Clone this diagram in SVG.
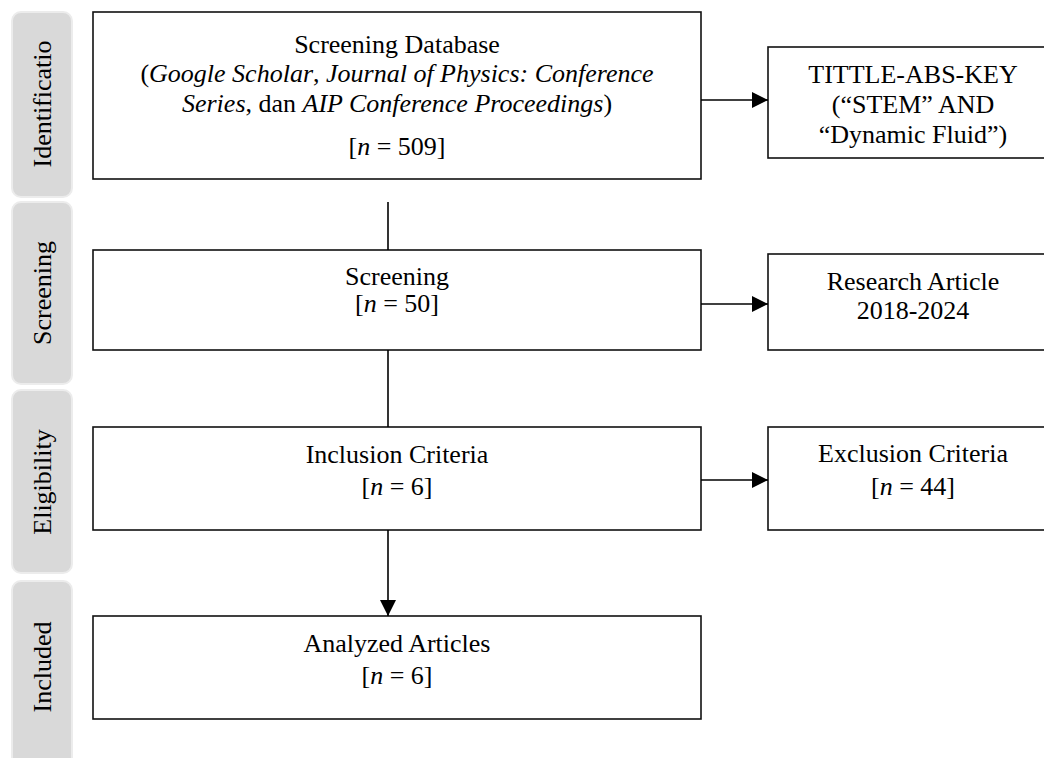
<svg xmlns="http://www.w3.org/2000/svg" width="1044" height="758" viewBox="0 0 1044 758">
  <defs>
    <marker id="arrow" markerWidth="17" markerHeight="17" refX="16" refY="8" orient="auto" markerUnits="userSpaceOnUse">
      <path d="M0,0 L16,8 L0,16 Z" fill="#000"/>
    </marker>
  </defs>
  <style>
    .tab { fill: #d9d9d9; stroke: #ececec; stroke-width: 2; }
    .box { fill: #fff; stroke: #111; stroke-width: 1.6; }
    .lbl { font-family: "Liberation Serif", "Times New Roman", serif; font-size: 26px; fill: #000; text-anchor: middle; }
    .conn { stroke: #000; stroke-width: 1.6; fill: none; }
  </style>
  <rect width="1044" height="758" fill="#fff"/>

  <!-- phase tabs -->
  <g id="tab-identification">
    <rect class="tab" x="12" y="12" width="60" height="185" rx="9"/>
    <text class="lbl" transform="translate(51,104) rotate(-90)">Identificatio</text>
  </g>
  <g id="tab-screening">
    <rect class="tab" x="12" y="202" width="60" height="182" rx="9"/>
    <text class="lbl" transform="translate(51,293) rotate(-90)">Screening</text>
  </g>
  <g id="tab-eligibility">
    <rect class="tab" x="12" y="390" width="60" height="183" rx="9"/>
    <text class="lbl" transform="translate(51,482) rotate(-90)">Eligibility</text>
  </g>
  <g id="tab-included">
    <rect class="tab" x="12" y="581" width="60" height="190" rx="9"/>
    <text class="lbl" transform="translate(51,667) rotate(-90)">Included</text>
  </g>

  <!-- main column -->
  <g id="node-database">
    <rect class="box" x="93" y="12" width="608" height="167"/>
    <text class="lbl" x="397" y="53">Screening Database</text>
    <text class="lbl" x="397" y="82">(<tspan font-style="italic">Google Scholar</tspan>, <tspan font-style="italic">Journal of Physics: Conference</tspan></text>
    <text class="lbl" x="397" y="112"><tspan font-style="italic">Series</tspan>, dan <tspan font-style="italic">AIP Conference Proceedings</tspan>)</text>
    <text class="lbl" x="397" y="155">[<tspan font-style="italic">n</tspan> = 509]</text>
  </g>
  <g id="node-screening">
    <rect class="box" x="93" y="250" width="608" height="100"/>
    <text class="lbl" x="397" y="285">Screening</text>
    <text class="lbl" x="397" y="312">[<tspan font-style="italic">n</tspan> = 50]</text>
  </g>
  <g id="node-inclusion">
    <rect class="box" x="93" y="427" width="608" height="103"/>
    <text class="lbl" x="397" y="463">Inclusion Criteria</text>
    <text class="lbl" x="397" y="495">[<tspan font-style="italic">n</tspan> = 6]</text>
  </g>
  <g id="node-analyzed">
    <rect class="box" x="93" y="616" width="608" height="103"/>
    <text class="lbl" x="397" y="652">Analyzed Articles</text>
    <text class="lbl" x="397" y="684">[<tspan font-style="italic">n</tspan> = 6]</text>
  </g>

  <!-- side column -->
  <g id="node-keywords">
    <rect class="box" x="768" y="47" width="292" height="111"/>
    <text class="lbl" x="913" y="83">TITTLE-ABS-KEY</text>
    <text class="lbl" x="913" y="113">(“STEM” AND</text>
    <text class="lbl" x="913" y="143">“Dynamic Fluid”)</text>
  </g>
  <g id="node-research">
    <rect class="box" x="768" y="254" width="292" height="96"/>
    <text class="lbl" x="913" y="290">Research Article</text>
    <text class="lbl" x="913" y="319">2018-2024</text>
  </g>
  <g id="node-exclusion">
    <rect class="box" x="768" y="427" width="292" height="103"/>
    <text class="lbl" x="913" y="462">Exclusion Criteria</text>
    <text class="lbl" x="913" y="495">[<tspan font-style="italic">n</tspan> = 44]</text>
  </g>

  <!-- connectors -->
  <g id="connectors">
    <line class="conn" x1="388" y1="202" x2="388" y2="250"/>
    <line class="conn" x1="388" y1="350" x2="388" y2="427"/>
    <line class="conn" x1="388" y1="530" x2="388" y2="616" marker-end="url(#arrow)"/>
    <line class="conn" x1="701" y1="100" x2="768" y2="100" marker-end="url(#arrow)"/>
    <line class="conn" x1="701" y1="304" x2="768" y2="304" marker-end="url(#arrow)"/>
    <line class="conn" x1="701" y1="480" x2="768" y2="480" marker-end="url(#arrow)"/>
  </g>
</svg>
